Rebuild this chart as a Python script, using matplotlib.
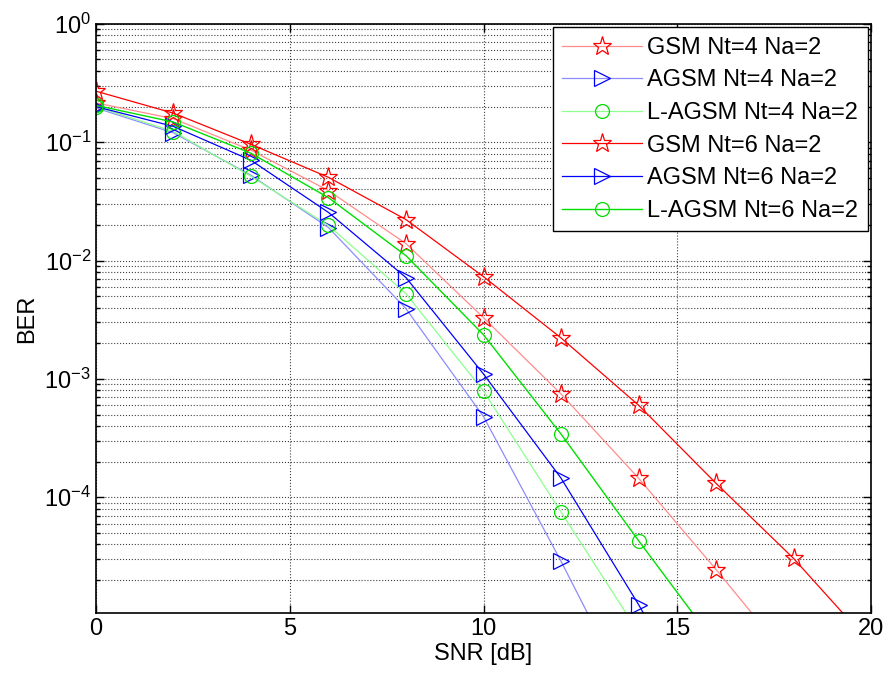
import matplotlib
matplotlib.use("Agg")
import matplotlib.pyplot as plt
from matplotlib.ticker import LogLocator, NullFormatter, FixedLocator

plt.rcParams['font.family'] = ['Liberation Sans', 'DejaVu Sans']
plt.rcParams['axes.unicode_minus'] = False
plt.rcParams['mathtext.fontset'] = 'custom'
plt.rcParams['mathtext.rm'] = 'Liberation Sans'

snr = [0, 2, 4, 6, 8, 10, 12, 14, 16, 18, 20]

# BER (points below the axis only set the line slope)
gsm_nt4 = [0.215, 0.158, 0.0857, 0.039, 0.0139, 0.00329, 7.46e-4, 1.45e-4, 2.45e-5, 3.9e-6]
agsm_nt4 = [0.195, 0.12, 0.0526, 0.019, 0.00392, 4.8e-4, 2.88e-5, 1.5e-6]
lagsm_nt4 = [0.2, 0.123, 0.0515, 0.0198, 0.00525, 7.9e-4, 7.5e-5, 7.2e-6]
gsm_nt6 = [0.27, 0.176, 0.096, 0.0505, 0.0222, 0.00731, 0.00222, 6.0e-4, 1.31e-4, 3.04e-5, 5.7e-6]
agsm_nt6 = [0.2, 0.136, 0.0704, 0.0255, 0.00718, 0.0011, 1.45e-4, 1.24e-5, 8.6e-7]
lagsm_nt6 = [0.205, 0.148, 0.0807, 0.034, 0.011, 0.00236, 3.42e-4, 4.3e-5, 5.7e-6]

labels = ["GSM Nt=4 Na=2", "AGSM Nt=4 Na=2", "L-AGSM Nt=4 Na=2",
          "GSM Nt=6 Na=2", "AGSM Nt=6 Na=2", "L-AGSM Nt=6 Na=2"]

fig = plt.figure(figsize=(8.88, 6.82), dpi=100)
ax = fig.add_axes([0.108, 0.101, 0.873, 0.864])

ax.semilogy(snr[:len(gsm_nt4)], gsm_nt4, '-', color='#ff8c8c', lw=0.9,
            marker='*', ms=14, mfc='none', mec='#ff0000', mew=0.9, label=labels[0])
ax.semilogy(snr[:len(agsm_nt4)], agsm_nt4, '-', color='#8c8cff', lw=0.9,
            marker='>', ms=11, mfc='none', mec='#0000ff', mew=0.9, label=labels[1])
ax.semilogy(snr[:len(lagsm_nt4)], lagsm_nt4, '-', color='#8cff8c', lw=0.9,
            marker='o', ms=10, mfc='none', mec='#00dd00', mew=0.9, label=labels[2])
ax.semilogy(snr[:len(gsm_nt6)], gsm_nt6, '-', color='#ff0000', lw=0.9,
            marker='*', ms=14, mfc='none', mec='#ff0000', mew=0.9, label=labels[3])
ax.semilogy(snr[:len(agsm_nt6)], agsm_nt6, '-', color='#0000ff', lw=0.9,
            marker='>', ms=11, mfc='none', mec='#0000ff', mew=0.9, label=labels[4])
ax.semilogy(snr[:len(lagsm_nt6)], lagsm_nt6, '-', color='#00e000', lw=1.0,
            marker='o', ms=10, mfc='none', mec='#00dd00', mew=0.9, label=labels[5])

ax.set_xlim(0, 20)
ax.set_ylim(1.05e-5, 1)
ax.xaxis.set_major_locator(FixedLocator([0, 5, 10, 15, 20]))
ax.yaxis.set_major_locator(FixedLocator([1e-4, 1e-3, 1e-2, 1e-1, 1e0]))
ax.yaxis.set_minor_locator(LogLocator(base=10, subs=range(2, 10), numticks=20))
ax.yaxis.set_minor_formatter(NullFormatter())

ax.grid(True, which='major', ls=':', color='#404040', lw=0.8)
ax.grid(True, which='minor', axis='y', ls=':', color='#404040', lw=0.8)
ax.tick_params(which='both', direction='in', top=True, right=True, labelsize=17)
ax.tick_params(which='major', length=6, width=1)
ax.tick_params(which='minor', length=3, width=1)
for s in ax.spines.values():
    s.set_linewidth(1.2)

ax.set_xlabel("SNR [dB]", fontsize=17, labelpad=2)
ax.set_ylabel("BER", fontsize=17, labelpad=4)

leg = ax.legend(loc='upper right', fontsize=17, fancybox=False, framealpha=1,
                edgecolor='black', borderaxespad=0.15, handlelength=3.4,
                labelspacing=0.45, handletextpad=0.2, borderpad=0.4)
leg.get_frame().set_linewidth(1.0)

fig.savefig("out.png", dpi=100)
